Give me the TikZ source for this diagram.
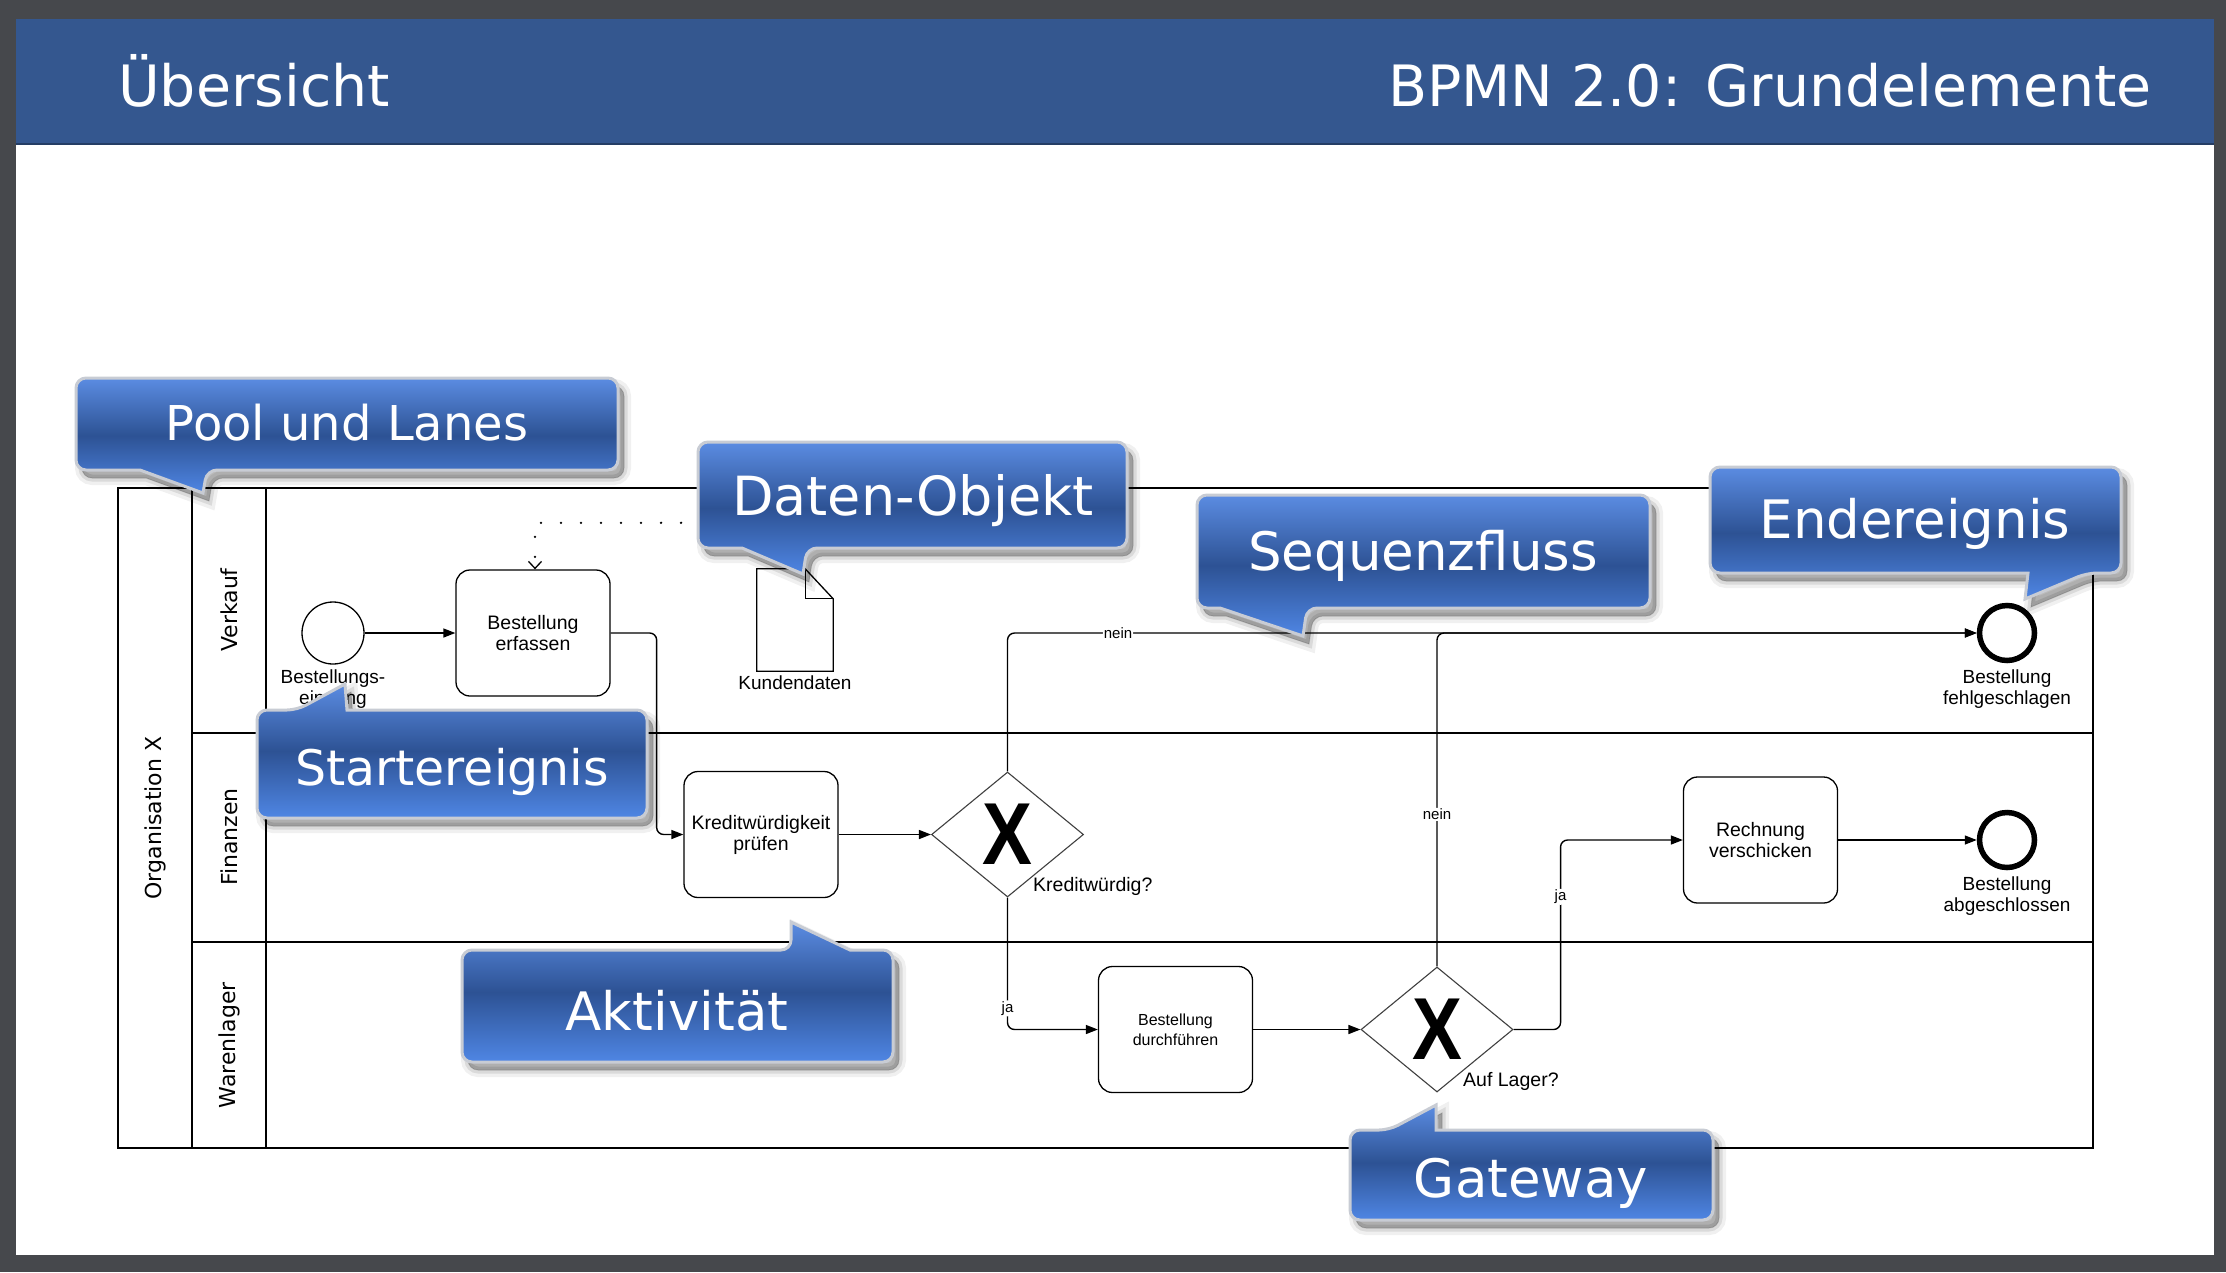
\documentclass[tikz,border=0pt]{standalone}
\usepackage{fontspec}
\setmainfont{DejaVu Sans}
\newfontfamily\flowfont{Liberation Sans}
\usetikzlibrary{shapes.geometric,arrows.meta}

\definecolor{slidebg}{HTML}{46484C}
\definecolor{headblue}{HTML}{34578F}
\definecolor{bubtop}{HTML}{5B8CE2}
\definecolor{bubmid}{HTML}{2D5294}
\definecolor{bubbot}{HTML}{4F86E4}
\definecolor{bubedge}{HTML}{C8CCD4}

\tikzset{
  lane/.style={line width=1.6pt},
  lanelabel/.style={rotate=90, font=\fontsize{22}{26}\selectfont},
  task/.style={draw, rounded corners=14pt, line width=1.3pt, minimum width=154pt,
    minimum height=126pt, align=center, font=\flowfont\fontsize{19.5}{21}\selectfont},
  gate/.style={draw=black!75, diamond, aspect=1.224, inner sep=0pt, line width=1.1pt,
    minimum width=152pt, minimum height=125pt, font=\flowfont\bfseries\fontsize{88}{88}\selectfont},
  startev/.style={draw, circle, line width=1.3pt, minimum size=62pt, inner sep=0pt},
  endev/.style={draw, circle, line width=5.5pt, minimum size=55pt, inner sep=0pt},
  evlabel/.style={anchor=north, align=center, inner sep=2pt, font=\flowfont\fontsize{19}{21}\selectfont},
  flow/.style={line width=1.4pt, rounded corners=7pt, -{Triangle[length=12pt,width=9pt]}},
  flowlabel/.style={fill=white, inner sep=1pt, font=\flowfont\fontsize{15}{17}\selectfont},
  assoc/.style={line width=2.6pt, line cap=round, dash pattern=on 0pt off 20pt,
    -{Straight Barb[length=7pt,width=13pt,line width=1.3pt]}},
  softshadow/.style={preaction={draw=black, line width=14pt, fill=black, opacity=0.06,
      transform canvas={shift={(6pt,-8pt)}}},
    preaction={draw=black, line width=7pt, fill=black, opacity=0.09,
      transform canvas={shift={(6pt,-8pt)}}},
    preaction={draw=black, line width=1pt, fill=black, opacity=0.14,
      transform canvas={shift={(6pt,-8pt)}}}},
  bubble/.style={softshadow, draw=bubedge, line width=3pt, top color=bubtop, bottom color=bubbot, middle color=bubmid},
  bubbletext/.style={anchor=base, text=white}
}

\begin{document}
\begin{tikzpicture}[x=1pt,y=-1pt]
    \useasboundingbox (0,0) rectangle (2226,1272);
    %% Slide
    \fill[slidebg] (0,0) rectangle (2226,1272);
    \fill[white] (16,19) rectangle (2214,1255);
    \fill[headblue] (16,19) rectangle (2214,145);
    \draw[headblue!70!black, line width=2pt] (16,144) -- (2214,144);
    \node[anchor=base west, inner sep=0pt, text=white, font=\fontsize{57}{66}\selectfont] (title) at (118,106) {Übersicht};
    \node[anchor=base east, inner sep=0pt, text=white, font=\fontsize{57}{66}\selectfont] (topic) at (2152,106) {BPMN 2.0: Grundelemente};
    %% Pool and lanes
    \draw[lane] (118,488) rectangle (2093,1148);
    \draw[lane] (192,488) -- (192,1148);
    \draw[lane] (266,488) -- (266,1148);
    \draw[lane] (192,733) -- (2093,733);
    \draw[lane] (192,942) -- (2093,942);
    \node[lanelabel] (org)      at (155,818)  {Organisation X};
    \node[lanelabel] (verkauf)  at (229,610)  {Verkauf};
    \node[lanelabel] (finanzen) at (229,837)  {Finanzen};
    \node[lanelabel] (lager)    at (229,1045) {Warenlager};
    %% Events, tasks, gateways
    \node[startev] (start) at (333,633) {};
        \node[evlabel] (startlbl) at (333,668) {Bestellungs-\\eingang};
    \node[task] (erfassen) at (533,633) {Bestellung\\erfassen};
    \node[task] (kredit) at (761,834.5) {Kreditwürdigkeit\\prüfen};
    \node[gate] (gw1) at (1007.5,834.5) {\scalebox{0.85}[1]{X}};
        \node[anchor=west, inner sep=0pt, font=\flowfont\fontsize{19.5}{21}\selectfont] (gw1lbl) at (1033,886) {Kreditwürdig?};
    \node[task, font=\flowfont\fontsize{16}{20}\selectfont] (durch) at (1175.5,1029.5) {Bestellung\\durchführen};
    \node[gate] (gw2) at (1437,1029.5) {\scalebox{0.85}[1]{X}};
        \node[anchor=west, inner sep=0pt, font=\flowfont\fontsize{19.5}{21}\selectfont] (gw2lbl) at (1463,1081) {Auf Lager?};
    \node[task] (rech) at (1760.5,840) {Rechnung\\verschicken};
    \node[endev] (fail) at (2007,633) {};
        \node[evlabel] (faillbl) at (2007,668) {Bestellung\\fehlgeschlagen};
    \node[endev] (done) at (2007,840) {};
        \node[evlabel] (donelbl) at (2007,875) {Bestellung\\abgeschlossen};
    %% Data object
    \node[minimum width=76pt, minimum height=102pt, inner sep=0pt] (kunde) at (795,620) {};
    \draw[line width=1.3pt] (kunde.north west) -- ([xshift=-28pt]kunde.north east)
        -- ([yshift=-30pt]kunde.north east) -- (kunde.south east) -- (kunde.south west) -- cycle;
    \draw[line width=1.3pt] ([xshift=-28pt]kunde.north east) |- ([yshift=-30pt]kunde.north east);
        \node[evlabel] (kundelbl) at (795,674) {Kundendaten};
    %% Flows
    \draw[flow] (start) -- (erfassen);
    \draw[flow] (erfassen.east) -- ++(46,0) |- (kredit.west);
    \draw[flow] (kredit) -- (gw1);
    \draw[flow] (gw1.north) |- node[flowlabel, pos=0.557] {nein} (fail.west);
    \draw[flow] (gw1.south) |- node[flowlabel, pos=0.42] {ja} (durch.west);
    \draw[flow] (durch) -- (gw2);
    \draw[flow] (gw2.north) |- node[flowlabel, pos=0.228] {nein} (fail.west);
    \draw[flow] (gw2.east) -- ++(47,0) |- node[flowlabel, pos=0.35] {ja} (rech.west);
    \draw[flow] (rech) -- (done);
    \draw[assoc] (kunde.north) -- ++(0,-46) -| ([xshift=2pt]erfassen.north);
    %% Callouts
    \path[bubble] (350,378) [rounded corners=10pt] -- (618,378) -- (618,470) -- (207,470)
        [sharp corners] -- (203,493) -- (140,470) [rounded corners=10pt] -- (76,470) -- (76,378) -- cycle;
        \node[bubbletext, font=\fontsize{48}{56}\selectfont] (pool) at (347,440) {Pool und Lanes};
    \path[bubble] (912,442) [rounded corners=10pt] -- (1127,442) -- (1127,548) -- (807,548)
        [sharp corners] -- (803,574) -- (742,548) [rounded corners=10pt] -- (698,548) -- (698,442) -- cycle;
        \node[bubbletext, font=\fontsize{54}{60}\selectfont] (daten) at (913,515) {Daten-Objekt};
    \path[bubble] (1420,495) [rounded corners=10pt] -- (1650,495) -- (1650,608) -- (1307,608)
        [sharp corners] -- (1303,636) -- (1220,608) [rounded corners=10pt] -- (1197,608) -- (1197,495) -- cycle;
        \node[bubbletext, font=\fontsize{53}{60}\selectfont] (sequenz) at (1423,570) {Sequenzfluss};
    \path[bubble] (1900,467) [rounded corners=10pt] -- (2121,467) -- (2121,573) -- (2087,573)
        [sharp corners] -- (2025,599) -- (2028,573) [rounded corners=10pt] -- (1710,573) -- (1710,467) -- cycle;
        \node[bubbletext, font=\fontsize{53}{60}\selectfont] (ende) at (1915,538) {Endereignis};
    \path[bubble] (500,710) [rounded corners=10pt] -- (647,710) -- (647,818) -- (257,818) -- (257,710)
        -- (297,710) [sharp corners] -- (345,684) -- (347,710) [rounded corners=10pt] -- cycle;
        \node[bubbletext, font=\fontsize{49}{56}\selectfont] (startev) at (452,785) {Startereignis};
    \path[bubble] (600,950) [rounded corners=10pt] -- (791,950) [sharp corners] -- (791,922)
        -- (850,950) [rounded corners=10pt] -- (893,950) -- (893,1062) -- (462,1062) -- (462,950) -- cycle;
        \node[bubbletext, font=\fontsize{53}{60}\selectfont] (aktiv) at (677,1030) {Aktivität};
    \path[bubble] (1550,1130) [rounded corners=10pt] -- (1713,1130) -- (1713,1220) -- (1350,1220) -- (1350,1130)
        -- (1389,1130) [sharp corners] -- (1436,1105) -- (1436,1130) [rounded corners=10pt] -- cycle;
        \node[bubbletext, font=\fontsize{53}{60}\selectfont] (gateway) at (1531,1197) {Gateway};
\end{tikzpicture}
\end{document}
